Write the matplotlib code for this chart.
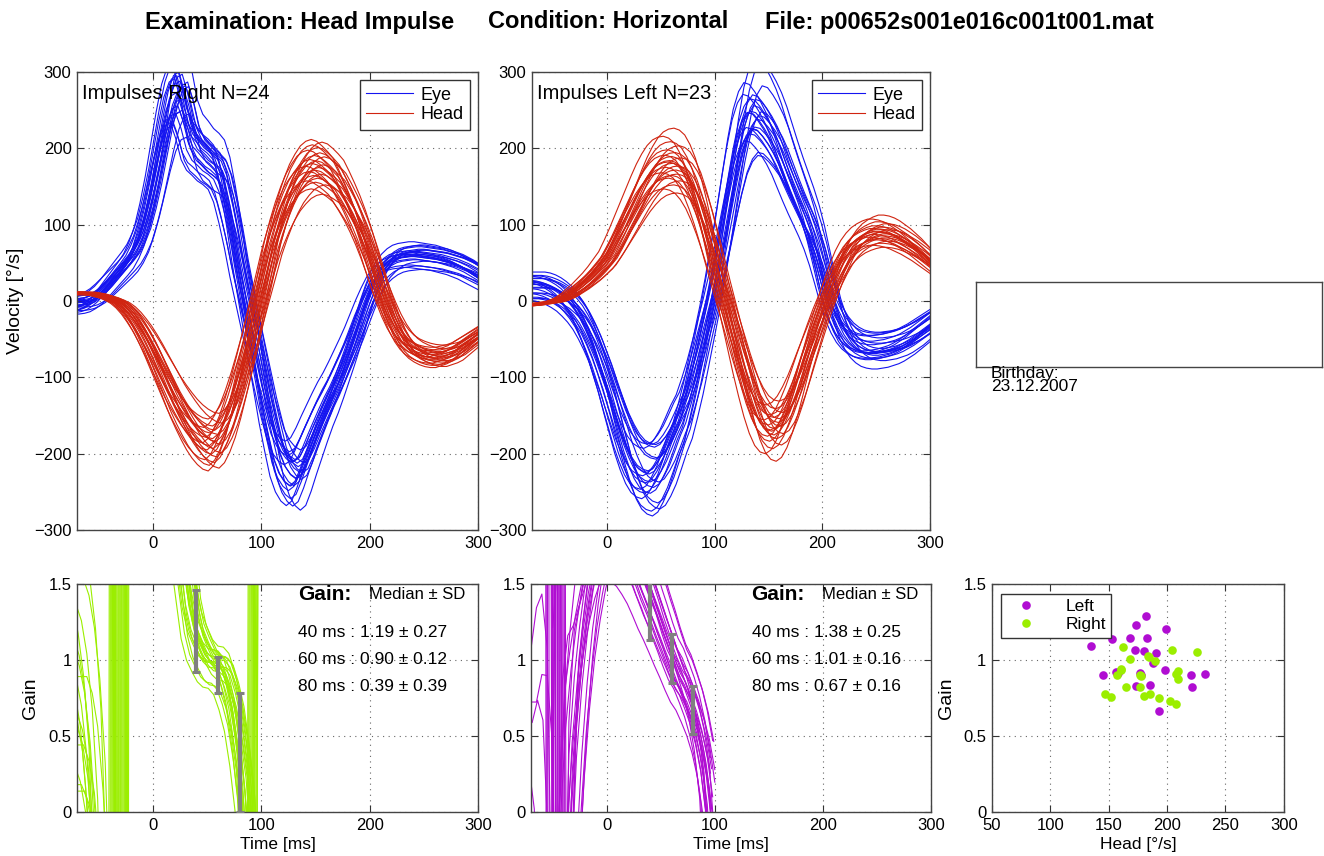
import numpy as np
import matplotlib
matplotlib.use("Agg")
import matplotlib.pyplot as plt

plt.rcParams['font.family'] = ['Liberation Sans', 'DejaVu Sans']

# template time base in ms (5 ms steps), curves
t_tmpl = np.arange(-90, 321, 5)

head_right = [8, 9, 10, 10, 10, 10, 10, 9, 8, 6,
              4, 1, -3, -9, -17, -27, -38, -51, -65, -80,
              -95, -110, -125, -138, -150, -161, -170, -177, -182, -184,
              -178, -166, -150, -129, -105, -78, -50, -20, 10, 40,
              70, 94, 115, 133, 148, 159, 168, 173, 175, 173,
              168, 162, 155, 143, 130, 116, 100, 82, 62, 40,
              18, -2, -20, -35, -47, -56, -62, -66, -69, -71,
              -72, -72, -70, -68, -65, -60, -55, -50, -45, -40,
              -35, -30, -25]
eye_right = [-5, -5, -5, -5, -5, -4, -2, 2, 7, 14,
             22, 30, 38, 46, 55, 68, 85, 110, 140, 175,
             210, 240, 258, 262, 240, 210, 195, 188, 180, 175,
             168, 150, 120, 85, 45, 10, -25, -60, -95, -130,
             -160, -188, -205, -215, -220, -215, -200, -182, -165, -148,
             -132, -118, -102, -85, -68, -50, -30, -10, 8, 24,
             36, 44, 50, 54, 56, 57, 58, 58, 57, 56,
             55, 54, 52, 50, 48, 45, 42, 38, 34, 30,
             26, 22, 18]
head_left = [-6, -6, -6, -5, -5, -4, -3, -2, -1, 1,
             4, 8, 13, 18, 24, 30, 37, 45, 53, 65,
             78, 92, 106, 120, 134, 147, 158, 167, 173, 176,
             177, 175, 170, 160, 146, 127, 105, 80, 53, 26,
             0, -26, -52, -78, -102, -124, -142, -155, -162, -164,
             -160, -150, -135, -117, -96, -74, -53, -32, -12, 6,
             24, 40, 54, 65, 73, 79, 83, 86, 88, 88,
             87, 85, 82, 78, 74, 69, 64, 58, 52, 46,
             40, 34, 28]
eye_left = [20, 20, 20, 20, 20, 20, 19, 17, 14, 10,
            5, -2, -10, -20, -33, -48, -65, -85, -105, -128,
            -150, -172, -190, -205, -215, -220, -222, -218, -208, -195,
            -178, -160, -145, -122, -97, -68, -38, -8, 25, 62,
            100, 140, 178, 210, 230, 240, 238, 230, 220, 208,
            193, 175, 157, 140, 124, 108, 90, 68, 42, 15,
            -8, -25, -38, -47, -53, -57, -59, -60, -60, -59,
            -58, -56, -54, -51, -47, -43, -38, -33, -28, -23,
            -18, -14, -10]

# per impulse time shift (ms), amplitude scales and eye offsets
shift_right = [6, -4, 9, -8, 2, -2, 5, -6, 0, 3, -9, 7, -3, 1, -5, 8, -1, 4, -7, 2, -3, 6, -4, 0]
head_scale_right = [0.80, 0.84, 0.87, 0.90, 0.92, 0.94, 0.95, 0.97, 0.98, 1.00, 1.01, 1.02,
                    1.03, 1.05, 1.06, 1.08, 1.09, 1.11, 1.13, 1.15, 1.17, 1.19, 1.21, 0.89]
eye_scale_right = [0.85, 0.92, 0.95, 0.88, 1.00, 0.97, 1.05, 0.90, 1.10, 1.02, 0.93, 1.08,
                   1.15, 0.98, 1.12, 1.05, 1.18, 1.00, 1.20, 1.10, 1.07, 1.25, 1.15, 0.95]
eye_offset_right = [-8, 5, -3, 10, -12, 2, 7, -5, 0, 12, -10, 4, -6, 8, -2, 6, -9, 3, -4, 9, -7, 1, 11, -1]

shift_left = [5, -7, 2, 8, -3, 0, -9, 4, -5, 6, 1, -2, 9, -6, 3, -4, 7, -1, -8, 2, 5, -3, 0]
head_scale_left = [0.80, 0.83, 0.86, 0.89, 0.91, 0.93, 0.95, 0.97, 0.99, 1.00, 1.02, 1.04,
                   1.06, 1.08, 1.10, 1.12, 1.15, 1.18, 1.22, 1.28, 0.94, 1.03, 1.07]
eye_scale_left = [0.82, 0.95, 0.90, 1.05, 0.88, 1.00, 1.12, 0.93, 1.08, 0.97, 1.15, 1.02,
                  1.20, 0.91, 1.10, 1.05, 1.25, 0.98, 1.18, 1.30, 0.87, 1.06, 1.13]
eye_offset_left = [-6, -18, 12, -4, 8, -15, 2, 15, -12, 10, -20, 4, -6, 9, 0, -5, 13, -9, 3, 7, -14, 11, -1]

gain_times = [40, 60, 80]
gain_med_right = [1.19, 0.90, 0.39]
gain_sd_right = [0.27, 0.12, 0.39]
gain_med_left = [1.38, 1.01, 0.67]
gain_sd_left = [0.25, 0.16, 0.16]

# peak head velocity vs gain
scatter_left_head = [134.6, 144.8, 152.5, 158.2, 168.5, 173.0, 182.1, 172.7, 179.8, 182.4, 190.4, 188.1,
                     177.0, 173.0, 185.0, 198.9, 198.6, 192.7, 220.8, 221.1, 232.2, 156.0, 178.0]
scatter_left_gain = [1.095, 0.90, 1.14, 0.917, 1.147, 1.23, 1.29, 1.064, 1.062, 1.145, 1.047, 0.98,
                     0.913, 0.83, 0.834, 1.204, 0.935, 0.666, 0.898, 0.823, 0.909, 0.92, 0.90]
scatter_right_head = [161.9, 168.2, 160.8, 156.8, 164.5, 146.5, 152.2, 177.0, 176.4, 180.1, 185.0, 183.3,
                      189.5, 192.7, 204.0, 202.3, 207.5, 208.0, 209.7, 209.1, 225.4, 177.5, 184.5, 160.5]
scatter_right_gain = [1.088, 1.007, 0.942, 0.902, 0.819, 0.773, 0.758, 0.90, 0.821, 0.762, 0.773, 1.029,
                      0.996, 0.753, 1.064, 0.727, 0.712, 0.911, 0.928, 0.876, 1.055, 0.895, 1.02, 0.935]

EYE_C = '#1414f0'
HEAD_C = '#d02410'
GREEN = '#9bee00'
PURPLE = '#b00dd2'


def style(ax):
    ax.grid(True, linestyle=(0, (1, 4)), color='#666666', linewidth=0.8)
    ax.tick_params(direction='in', top=True, right=True, labelsize=12, length=5,
                   width=0.8, color='#333333', pad=4)
    for s in ax.spines.values():
        s.set_color('#444444')
        s.set_linewidth(1.0)


fig = plt.figure(figsize=(13.24, 8.56), dpi=100)

t = np.array(t_tmpl, dtype=float)
panels = [
    ('Impulses Right N=24', head_right, eye_right, shift_right, head_scale_right,
     eye_scale_right, eye_offset_right, [0.0582, 0.3808, 0.3029, 0.5350],
     [0.0582, 0.0514, 0.3029, 0.2664], GREEN, gain_med_right, gain_sd_right),
    ('Impulses Left N=23', head_left, eye_left, shift_left, head_scale_left,
     eye_scale_left, eye_offset_left, [0.4018, 0.3808, 0.3006, 0.5350],
     [0.4011, 0.0514, 0.3021, 0.2664], PURPLE, gain_med_left, gain_sd_left),
]

for k, (name, head, eye, shifts, hsc, esc, eoff, pos_top, pos_bot, gcol, gmed, gsd) in enumerate(panels):
    ax = fig.add_axes(pos_top)
    axg = fig.add_axes(pos_bot)
    head = np.array(head, dtype=float)
    eye = np.array(eye, dtype=float)
    for i in range(len(shifts)):
        tt = t + shifts[i]
        h = head * hsc[i]
        e = eye * esc[i] + eoff[i]
        ax.plot(tt, e, color=EYE_C, lw=0.8, label='Eye' if i == 0 else None, zorder=2)
        with np.errstate(divide='ignore', invalid='ignore'):
            g = -e / h
        m = (tt >= -75) & (tt <= 100)
        axg.plot(tt[m], g[m], color=gcol, lw=0.8, zorder=2)
    for i in range(len(shifts)):
        tt = t + shifts[i]
        ax.plot(tt, head * hsc[i], color=HEAD_C, lw=0.8, label='Head' if i == 0 else None, zorder=3)

    style(ax)
    ax.set_xlim(-70, 300)
    ax.set_ylim(-300, 300)
    ax.set_xticks([0, 100, 200, 300])
    ax.set_yticks([-300, -200, -100, 0, 100, 200, 300])
    ax.text(0.012, 0.954, name, transform=ax.transAxes, fontsize=14.5, va='center', ha='left', zorder=5)
    leg = ax.legend(loc='upper right', fontsize=13, fancybox=False, framealpha=1,
                    edgecolor='#333333', handlelength=2.6, borderaxespad=0.45,
                    borderpad=0.35, labelspacing=0.15, handletextpad=0.4)
    leg.get_frame().set_linewidth(1.0)
    if k == 0:
        ax.set_ylabel('Velocity [°/s]', fontsize=14, labelpad=7)

    axg.errorbar(gain_times, gmed, yerr=gsd, fmt='none', ecolor='#808080',
                 elinewidth=3, capsize=3.2, capthick=2.2, zorder=4)
    style(axg)
    axg.set_xlim(-70, 300)
    axg.set_ylim(0, 1.5)
    axg.set_xticks([0, 100, 200, 300])
    axg.set_yticks([0, 0.5, 1, 1.5])
    axg.set_yticklabels(['0', '0.5', '1', '1.5'])
    axg.set_xlabel('Time [ms]', fontsize=12.5, labelpad=3)
    if k == 0:
        axg.set_ylabel('Gain', fontsize=14, labelpad=7)
    axg.text(134, 1.43, 'Gain:', fontsize=15, fontweight='bold', va='center', ha='left', zorder=5)
    axg.text(199, 1.43, 'Median ± SD', fontsize=12, va='center', ha='left', zorder=5)
    for j, (gt, md, sd) in enumerate(zip(gain_times, gmed, gsd)):
        axg.text(134, 1.184 - j * 0.18, f'{gt} ms : {md:.2f} ± {sd:.2f}', fontsize=12.5,
                 va='center', ha='left', zorder=5)

# head velocity vs gain
axs = fig.add_axes([0.7492, 0.0514, 0.2205, 0.2664])
axs.plot(scatter_left_head, scatter_left_gain, 'o', color=PURPLE, ms=6.2, mec='none', label='Left')
axs.plot(scatter_right_head, scatter_right_gain, 'o', color=GREEN, ms=6.2, mec='none', label='Right')
style(axs)
axs.set_xlim(50, 300)
axs.set_ylim(0, 1.5)
axs.set_xticks([50, 100, 150, 200, 250, 300])
axs.set_yticks([0, 0.5, 1, 1.5])
axs.set_yticklabels(['0', '0.5', '1', '1.5'])
axs.set_xlabel('Head [°/s]', fontsize=12.5, labelpad=3)
axs.set_ylabel('Gain', fontsize=14, labelpad=6)
leg = axs.legend(loc='upper left', fontsize=12.5, fancybox=False, framealpha=1,
                 edgecolor='#333333', borderaxespad=0.55, handlelength=2.2,
                 borderpad=0.3, labelspacing=0.2, handletextpad=1.2)
leg.get_frame().set_linewidth(1.0)

# patient info box
axi = fig.add_axes([0.7372, 0.5713, 0.2613, 0.0993])
axi.set_xticks([])
axi.set_yticks([])
for s in axi.spines.values():
    s.set_color('#444444')
    s.set_linewidth(1.0)
fig.text(991 / 1324, 1 - 366 / 856, 'Birthday:\n23.12.2007', fontsize=12.5,
         va='top', ha='left', linespacing=0.85)

# title parts
fig.text(145 / 1324, 1 - 22 / 856, 'Examination: Head Impulse', fontsize=17, fontweight='bold', va='center')
fig.text(488 / 1324, 1 - 22 / 856, 'Condition: Horizontal', fontsize=17, fontweight='bold', va='center')
fig.text(765 / 1324, 1 - 22 / 856, 'File: p00652s001e016c001t001.mat', fontsize=17, fontweight='bold', va='center')

fig.savefig('out.png', dpi=100)
